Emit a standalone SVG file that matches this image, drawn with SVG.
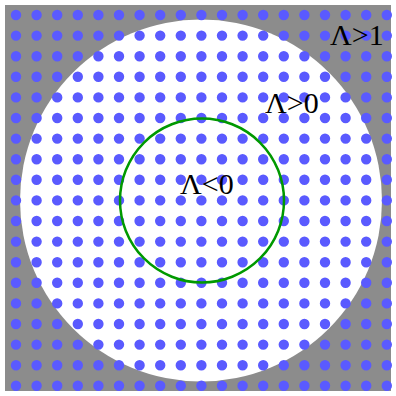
<svg xmlns="http://www.w3.org/2000/svg" width="396" height="396" viewBox="0 0 396 396">
<defs>
<style>
.lbl{font-family:"Liberation Serif","Times New Roman",serif;font-size:30px;fill:#000}
.row{fill:none;stroke:#5a5aff;stroke-width:10.4;stroke-linecap:round}
</style>
<path id="row" class="row" d="M16 0h0m20.6 0h0m20.6 0h0m20.6 0h0m20.6 0h0m20.6 0h0m20.6 0h0m20.6 0h0m20.6 0h0m20.6 0h0m20.6 0h0m20.6 0h0m20.6 0h0m20.6 0h0m20.6 0h0m20.6 0h0m20.6 0h0m20.6 0h0m20.6 0h0"/>
</defs>
<rect x="5" y="5" width="386" height="386" fill="#8c8c8c"/>
<circle cx="201" cy="200.5" r="181" fill="#fff"/>
<g id="dots">
<use href="#row" y="15"/>
<use href="#row" y="35.6"/>
<use href="#row" y="56.2"/>
<use href="#row" y="76.8"/>
<use href="#row" y="97.4"/>
<use href="#row" y="118"/>
<use href="#row" y="138.6"/>
<use href="#row" y="159.2"/>
<use href="#row" y="179.8"/>
<use href="#row" y="200.4"/>
<use href="#row" y="221"/>
<use href="#row" y="241.6"/>
<use href="#row" y="262.2"/>
<use href="#row" y="282.8"/>
<use href="#row" y="303.4"/>
<use href="#row" y="324"/>
<use href="#row" y="344.6"/>
<use href="#row" y="365.2"/>
<use href="#row" y="385.8"/>
</g>
<g id="connectors"></g>
<g id="inner">
<circle cx="202" cy="200.5" r="82" fill="none" stroke="#009900" stroke-width="2.5"/>
</g>
<g id="labels">
<text class="lbl" x="330" y="45">Λ&gt;1</text>
<text class="lbl" x="265" y="113">Λ&gt;0</text>
<text class="lbl" x="180" y="194">Λ&lt;0</text>
</g>
</svg>
